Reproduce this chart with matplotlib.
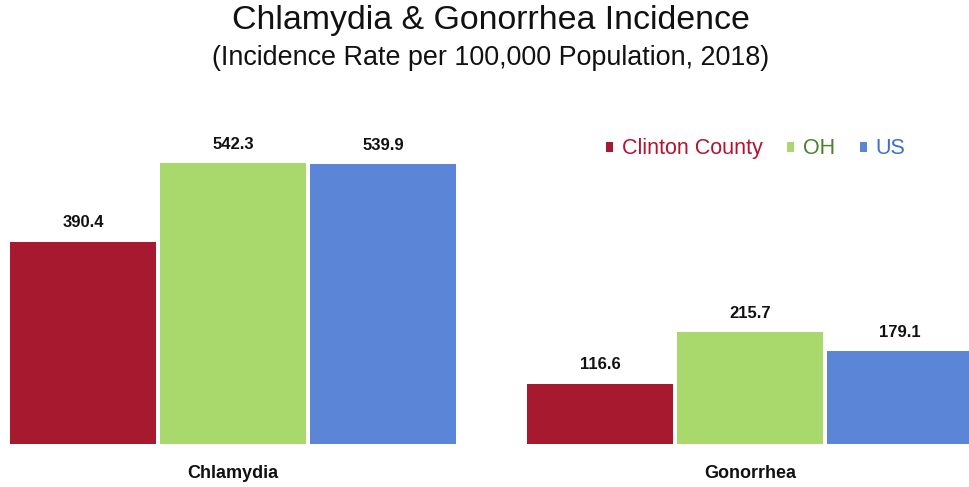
import matplotlib
matplotlib.use("Agg")
import matplotlib.pyplot as plt
from matplotlib import font_manager
import numpy as np

categories = ["Chlamydia", "Gonorrhea"]
series = ["Clinton County", "OH", "US"]
clinton = [390.4, 116.6]
oh = [542.3, 215.7]
us = [539.9, 179.1]

bar_colors = ["#A6192E", "#A9D96C", "#5B86D7"]
text_colors = ["#B5122E", "#4E7F2C", "#3E6FC9"]

names = {f.name for f in font_manager.fontManager.ttflist}
base = "Liberation Sans" if "Liberation Sans" in names else "DejaVu Sans"
narrow = "Liberation Sans Narrow" if "Liberation Sans Narrow" in names else base
plt.rcParams["font.family"] = [base, "DejaVu Sans"]

W, H = 970, 487
fig = plt.figure(figsize=(W / 100, H / 100), dpi=100)
ax = fig.add_axes([0, 43 / H, 1, 344 / H])

pitch = 150 / 517
width = 146 / 517
x = np.arange(len(categories))
for i, (vals, c) in enumerate(zip([clinton, oh, us], bar_colors)):
    pos = x + (i - 1) * pitch
    ax.bar(pos, vals, width=width, color=c, label=series[i], zorder=2)
    for xp, v in zip(pos, vals):
        ax.text(xp, v + 22, f"{v:.1f}", ha="center", va="bottom",
                fontsize=12, fontweight="bold", family=[narrow, base], color="#111111")

ax.set_xlim(-0.4507, -0.4507 + W / 517)
ax.set_ylim(0, 664)
ax.axis("off")

for xc, name in zip(x, categories):
    ax.text(xc, -56, name, ha="center", va="center", fontsize=13,
            fontweight="bold", family=[narrow, base], color="#111111")

fig.text(491 / W, 1 - 21 / H, "Chlamydia & Gonorrhea Incidence", ha="center", va="center",
         fontsize=24.4, color="#111111")
fig.text(491 / W, 1 - 58 / H, "(Incidence Rate per 100,000 Population, 2018)", ha="center",
         va="center", fontsize=19.4, color="#111111")

leg = ax.legend(loc="center left", bbox_to_anchor=(606 / W, 1 - (149 - 100) / 344),
                ncol=3, frameon=False, fontsize=15.5, handlelength=0.33, handleheight=0.33,
                handletextpad=0.4, columnspacing=1.15, borderaxespad=0, borderpad=0)
for t, c in zip(leg.get_texts(), text_colors):
    t.set_color(c)

fig.savefig("out.png", dpi=100)
